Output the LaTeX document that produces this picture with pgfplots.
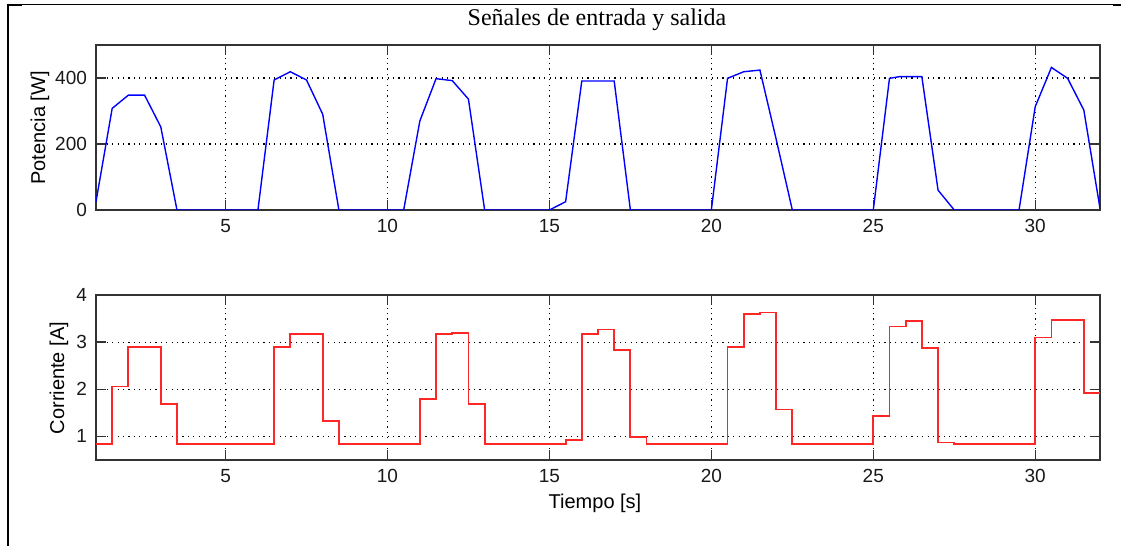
\documentclass[border=0pt]{standalone}
\usepackage{fontspec}
\setmainfont{Liberation Sans}
\newfontfamily\serifttl{Liberation Serif}
\usepackage{pgfplots}
\pgfplotsset{compat=1.18}

\pgfplotstableread{
x y
1 25
1.5 308
2 348
2.5 348
3 252
3.5 0
6 0
6.5 394
7 419
7.5 394
8 290
8.5 0
10.5 0
11 270
11.5 398
12 392
12.5 336
13 0
15 0
15.5 25
16 391
17 391
17.5 0
20 0
20.5 399
21 419
21.5 424
22 215
22.5 0
25 0
25.5 399
25.8 404
26.5 404
27 60
27.5 0
29.5 0
30 313
30.5 432
31 399
31.5 303
32 5
}\potencia

\pgfplotstableread{
x y
1 0.835
1.5 2.06
2 2.905
3 1.69
3.5 0.835
6.5 2.905
7 3.18
8 1.33
8.5 0.835
11 1.80
11.5 3.18
12 3.2
12.5 1.69
13 0.835
15.5 0.93
16 3.18
16.5 3.27
17 2.84
17.5 0.985
18 0.835
20.5 2.905
21 3.6
21.5 3.63
22 1.57
22.5 0.835
25 1.43
25.5 3.33
26 3.44
26.5 2.88
27 0.87
27.5 0.835
30 3.1
30.5 3.47
31.5 1.92
32 1.92
}\corriente

\pgfplotsset{
  mlab/.style={
    scale only axis,
    width=502pt,
    height=82.5pt,
    xmin=1, xmax=32,
    xtick={5,10,15,20,25,30},
    tick align=inside,
    major tick length=5pt,
    axis line style={black!80, line width=0.7pt},
    every tick/.style={black!80, line width=0.7pt},
    grid=major,
    major grid style={black, line width=0.6pt, dash pattern=on 0.6pt off 2.1pt},
    /pgf/number format/assume math mode=true,
    ticklabel style={font=\fontsize{9.5}{10}\selectfont, black!90},
    xticklabel style={yshift=-1pt},
    yticklabel style={xshift=-1pt},
    clip=true,
  }
}

\begin{document}
\begin{tikzpicture}
\useasboundingbox (0,0) rectangle (560.5pt,273pt);
% outer frame
\draw[black, line width=0.5pt] (3.5pt,270.65pt) -- (560.5pt,270.65pt);
\draw[black, line width=1.1pt] (3.85pt,271.1pt) -- (3.85pt,0pt);
\draw[black, line width=1pt] (3.5pt,270.6pt) -- (11pt,270.6pt);
\draw[black, line width=1pt] (556.5pt,270.4pt) -- (560.5pt,270.4pt);

\begin{axis}[mlab, at={(48pt,168pt)}, anchor=south west,
  ymin=0, ymax=500, ytick={0,200,400}]
  \addplot[blue, line width=0.7pt, mark=none] table[x=x,y=y] {\potencia};
\end{axis}

\begin{axis}[mlab, at={(48pt,43pt)}, anchor=south west,
  ymin=0.5, ymax=4, ytick={1,2,3,4}]
  \addplot[red!85!white, line width=0.9pt, mark=none, const plot] table[x=x,y=y] {\corriente};
\end{axis}

\node[font=\serifttl\fontsize{12}{14}\selectfont] at (298.5pt,263pt) {Señales de entrada y salida};
\node[rotate=90, font=\fontsize{10}{12}\selectfont] at (20pt,209pt) {Potencia [W]};
\node[rotate=90, font=\fontsize{10}{12}\selectfont] at (29.5pt,84pt) {Corriente [A]};
\node[font=\fontsize{10}{12}\selectfont] at (297.5pt,21.5pt) {Tiempo [s]};
\end{tikzpicture}
\end{document}
